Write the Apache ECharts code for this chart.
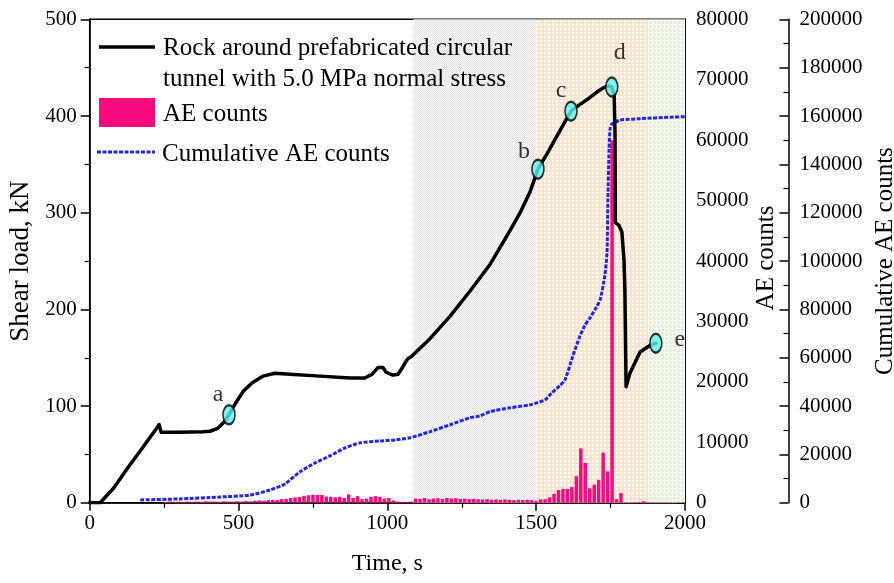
<!DOCTYPE html>
<html>
<head>
<meta charset="utf-8">
<script src="https://cdn.jsdelivr.net/npm/echarts@6/dist/echarts.min.js"></script>
<style>
  html, body { margin: 0; padding: 0; background: #fff; }
  #chart { width: 894px; height: 583px; }
</style>
</head>
<body>
<div id="chart"></div>
<script>
// Shear load history (s, kN)
const shearTime = [0, 35, 80, 130, 180, 225, 233, 240, 300, 380, 404, 430, 450, 468, 490, 515, 545, 583, 622, 673, 774, 875, 924, 949, 969, 975, 985, 996, 1019, 1036, 1053, 1066, 1073, 1080, 1144, 1211, 1278, 1346, 1413, 1446, 1480, 1506, 1540, 1571, 1604, 1617, 1638, 1671, 1705, 1725, 1745, 1754, 1762, 1765, 1766, 1778, 1788, 1795, 1798, 1802, 1815, 1849, 1883, 1902];
const shearLoad = [0, 0, 15, 37, 58, 77, 81, 73, 73, 73.5, 74, 77, 83, 91, 103, 115, 124, 131, 134, 133, 131, 129, 129, 133, 140, 142, 140, 135, 132, 133, 141, 148, 150, 151, 170, 193, 219, 247, 282, 300, 322, 345, 363, 380, 398, 405, 410, 417, 425, 429, 431, 430, 422, 380, 290, 287, 280, 251, 220, 120, 134, 156, 163, 165];

// Labelled stages on the load curve
const stageNames = ['a', 'b', 'c', 'd', 'e'];
const stageTime = [468, 1506, 1617, 1754, 1902];
const stageLoad = [91, 345, 405, 430, 165];

// AE counts per 15 s bin, first bin centred at 255 s
const aeBinStart = 255;
const aeBinWidth = 15;
const aeCounts = [
  150, 200, 150, 200, 150, 200, 150, 200, 150, 250,
  200, 200, 150, 250, 200, 200, 250, 200, 300, 250,
  350, 400, 350, 450, 500, 450, 600, 650, 800, 900,
  950, 1150, 1250, 1350, 1300, 1300, 1050, 1000, 900, 1000,
  800, 1400, 800, 1100, 600, 700, 1000, 1100, 1000, 700,
  800, 400, 200, 150, 150, 200, 700, 650, 800, 600,
  700, 750, 650, 800, 700, 750, 650, 700, 600, 650,
  600, 550, 600, 500, 550, 500, 550, 500, 450, 500,
  450, 500, 440, 330, 550, 600, 900, 1500, 2100, 2300,
  2300, 2600, 4400, 9000, 6600, 2400, 3000, 3800, 8300, 5200,
  60000, 600, 1600, 80, 50, 80, 120, 250, 80, 50,
  40, 40, 40, 40, 40, 40, 60
];

// Cumulative AE counts
const cumTime = [170, 303, 438, 539, 606, 656, 706, 757, 807, 858, 908, 975, 1026, 1076, 1143, 1211, 1278, 1311, 1345, 1412, 1479, 1513, 1530, 1552, 1580, 1597, 1624, 1647, 1664, 1681, 1698, 1715, 1731, 1738, 1741, 1745, 1748, 1754, 1782, 1850, 1950, 2000];
const cumCounts = [1200, 1600, 2400, 3200, 5300, 7800, 12800, 16500, 19400, 22700, 24800, 25600, 26000, 26900, 29400, 32300, 35200, 35900, 37700, 39300, 40500, 41800, 42600, 45400, 48500, 50900, 61000, 69000, 73500, 76500, 80000, 84000, 94300, 103500, 125500, 146200, 154500, 156600, 158300, 158900, 159500, 159700];

// Deformation stages shaded in the background (s)
const phaseBounds = [[1087, 1500], [1500, 1877], [1877, 2000]];

const FONT = "'Liberation Serif', 'Times New Roman', serif";
const PINK = '#fb0a7d';
const BLUE = '#2424e6';
const CYAN = '#5ff2f0';

// small tiled textures for the stage backgrounds
function tile(size, base, draw) {
  const c = document.createElement('canvas');
  c.width = size; c.height = size;
  const g = c.getContext('2d');
  g.fillStyle = base; g.fillRect(0, 0, size, size);
  draw(g);
  return { image: c, repeat: 'repeat' };
}
const phaseFills = [
  tile(2, '#f8f8f8', g => { g.fillStyle = '#e3e3e3'; g.fillRect(0, 0, 1, 1); g.fillRect(1, 1, 1, 1); }),
  tile(4, '#f7e5cf', g => { g.fillStyle = '#fffdf9'; g.fillRect(0, 0, 2, 2); }),
  tile(4, '#e6f0d7', g => { g.fillStyle = '#fafdf6'; g.fillRect(0, 0, 4, 1); g.fillRect(0, 0, 1, 4); })
];

const aeData = aeCounts.map((v, i) => [aeBinStart + i * aeBinWidth, v]);
const shearData = shearTime.map((t, i) => [t, shearLoad[i]]);
const cumData = cumTime.map((t, i) => [t, cumCounts[i]]);

const labelOffsets = [[-11, -20], [-14, -17], [-10, -20], [8, -34], [24, -4]];
const stageData = stageTime.map((t, i) => ({
  value: [t, stageLoad[i]],
  name: stageNames[i],
  label: { offset: labelOffsets[i] }
}));

const plain = v => String(v);
const axisText = { color: '#000', fontFamily: FONT, fontSize: 21, formatter: plain };
const blackLine = { lineStyle: { color: '#000', width: 1.5 } };

const chart = echarts.init(document.getElementById('chart'), null, { renderer: 'canvas' });
chart.setOption({
  animation: false,
  backgroundColor: '#fff',
  grid: {
    left: 89.7, right: 209, top: 19.3, bottom: 80.2,
    containLabel: false, outerBoundsMode: 'none',
    show: true, borderColor: '#000', borderWidth: 1.5, backgroundColor: 'transparent'
  },
  xAxis: {
    type: 'value', min: 0, max: 2000, interval: 500,
    name: 'Time, s', nameLocation: 'middle', nameGap: 49,
    nameTextStyle: { color: '#000', fontFamily: FONT, fontSize: 24 },
    axisLine: Object.assign({ onZero: false }, blackLine),
    axisTick: { show: true, inside: false, length: 8, lineStyle: { color: '#000', width: 1.5 } },
    minorTick: { show: true, splitNumber: 2, length: 5, lineStyle: { color: '#000', width: 1.2 } },
    axisLabel: Object.assign({ margin: 10 }, axisText),
    splitLine: { show: false }
  },
  yAxis: [
    {
      type: 'value', min: 0, max: 500, interval: 100, position: 'left',
      name: 'Shear load, kN', nameLocation: 'middle', nameGap: 42,
      nameTextStyle: { color: '#000', fontFamily: FONT, fontSize: 27 },
      axisLine: Object.assign({ show: true, onZero: false }, blackLine),
      axisTick: { show: true, inside: false, length: 9, lineStyle: { color: '#000', width: 1.5 } },
      minorTick: { show: true, splitNumber: 2, length: 5, lineStyle: { color: '#000', width: 1.2 } },
      axisLabel: Object.assign({ margin: 13 }, axisText),
      splitLine: { show: false }
    },
    {
      type: 'value', min: 0, max: 80000, interval: 10000, position: 'right',
      axisLine: Object.assign({ show: true, onZero: false }, blackLine),
      axisTick: { show: true, inside: true, length: 8, lineStyle: { color: '#000', width: 1.5 } },
      minorTick: { show: true, splitNumber: 2, length: 5, lineStyle: { color: '#000', width: 1.2 } },
      axisLabel: Object.assign({ margin: 11 }, axisText),
      splitLine: { show: false }
    },
    {
      type: 'value', min: 0, max: 200000, interval: 20000, position: 'right', offset: 103.5,
      name: 'Cumulative AE counts', nameLocation: 'middle', nameGap: 71,
      nameTextStyle: { color: '#000', fontFamily: FONT, fontSize: 25 },
      axisLine: Object.assign({ show: true, onZero: false }, blackLine),
      axisTick: { show: true, inside: true, length: 9, lineStyle: { color: '#000', width: 1.5 } },
      minorTick: { show: true, splitNumber: 2, length: 5, lineStyle: { color: '#000', width: 1.2 } },
      axisLabel: Object.assign({ margin: 11 }, axisText),
      splitLine: { show: false }
    }
  ],
  graphic: [
    // legend
    { type: 'line', shape: { x1: 99, y1: 47, x2: 155, y2: 47 }, style: { stroke: '#000', lineWidth: 3.5 }, z: 20 },
    { type: 'text', x: 163, y: 48, style: { text: 'Rock around prefabricated circular', font: '25px ' + FONT, fill: '#000', verticalAlign: 'middle' }, z: 20 },
    { type: 'text', x: 163, y: 79, style: { text: 'tunnel with 5.0 MPa normal stress', font: '25px ' + FONT, fill: '#000', verticalAlign: 'middle' }, z: 20 },
    { type: 'rect', shape: { x: 99, y: 98, width: 56, height: 29 }, style: { fill: PINK }, z: 20 },
    { type: 'text', x: 163, y: 114, style: { text: 'AE counts', font: '25px ' + FONT, fill: '#000', verticalAlign: 'middle' }, z: 20 },
    { type: 'line', shape: { x1: 97, y1: 152, x2: 155, y2: 152 }, style: { stroke: BLUE, lineWidth: 3, lineDash: [4, 1.5] }, z: 20 },
    { type: 'text', x: 162, y: 154, style: { text: 'Cumulative AE counts', font: '25px ' + FONT, fill: '#000', verticalAlign: 'middle' }, z: 20 },
    // title of the AE counts axis
    { type: 'text', x: 766, y: 258, rotation: Math.PI / 2,
      style: { text: 'AE counts', font: '25px ' + FONT, fill: '#000', align: 'center', verticalAlign: 'middle' }, z: 20 }
  ],
  series: [
    {
      // stage backgrounds
      type: 'line', yAxisIndex: 0, data: [[phaseBounds[0][0], 0], [phaseBounds[2][1], 0]],
      showSymbol: false, lineStyle: { opacity: 0 }, silent: true, z: 0,
      markArea: {
        silent: true,
        data: phaseBounds.map((b, i) => [
          { xAxis: b[0], itemStyle: { color: phaseFills[i] } },
          { xAxis: b[1] }
        ])
      }
    },
    {
      name: 'AE counts', type: 'bar', yAxisIndex: 1, data: aeData,
      barWidth: 3.5, itemStyle: { color: PINK }, z: 3
    },
    {
      name: 'Cumulative AE counts', type: 'line', yAxisIndex: 2, data: cumData,
      showSymbol: false, smooth: 0.2,
      lineStyle: { color: BLUE, width: 3, type: [4, 1.5] }, z: 4
    },
    {
      name: 'Rock around prefabricated circular tunnel with 5.0 MPa normal stress',
      type: 'line', yAxisIndex: 0, data: shearData,
      showSymbol: false, lineStyle: { color: '#000', width: 3.5, join: 'round', cap: 'round' }, z: 5
    },
    {
      type: 'scatter', yAxisIndex: 0, data: stageData,
      symbol: 'path://M0,10 A10,10 0 1,1 20,10 A10,10 0 1,1 0,10 Z',
      symbolSize: [12, 19],
      itemStyle: { color: CYAN, borderColor: '#000', borderWidth: 2 },
      label: {
        show: true, position: 'inside', formatter: p => p.name,
        color: '#000', fontFamily: FONT, fontSize: 24
      },
      z: 6
    }
  ]
});
</script>
</body>
</html>
